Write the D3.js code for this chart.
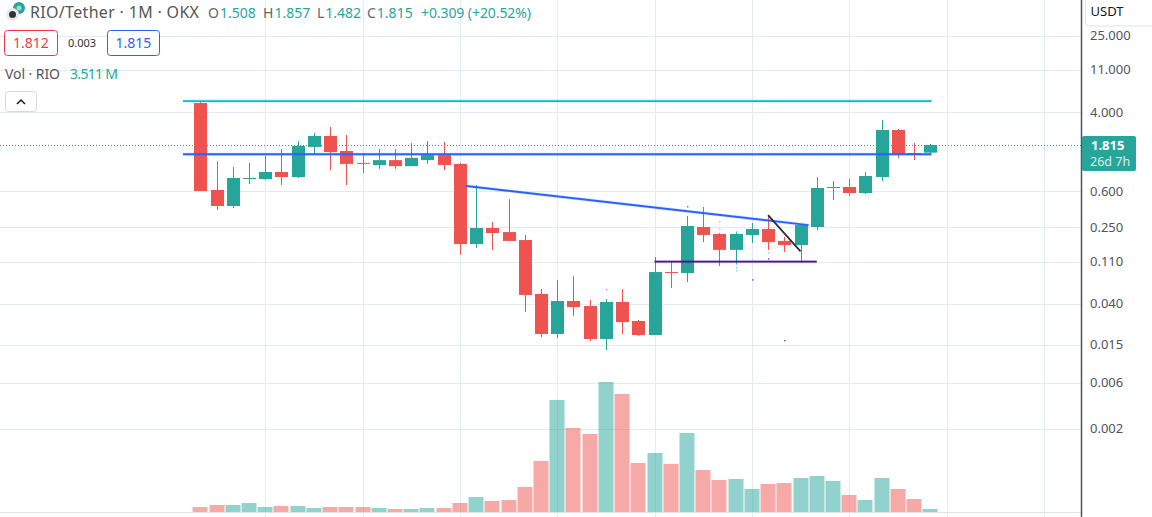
<!DOCTYPE html>
<html>
<head>
<meta charset="utf-8">
<script src="https://cdnjs.cloudflare.com/ajax/libs/d3/7.8.5/d3.min.js"></script>
<style>
    html, body { margin: 0; padding: 0; background: #fff; overflow: hidden; }
    text { font-family: "Noto Sans", sans-serif; }
</style>
</head>
<body>
<svg id="chart" width="1152" height="517"></svg>
<script>
// monthly candles
const opens  = [4.96, .615, .419, .81, .80, .947, .84, 1.73, 2.25, 1.57, 1.18, 1.12, 1.26, 1.09, 1.26, 1.42, 1.15, .168, .247, .224, .185, .0507, .0194, .0428, .038, .0172, .0418, .0265, .0189, .0858, .0838, .253, .214, .146, .209, .241, .181, .164, .253, .655, .661, .572, .84, 2.60, 1.49, 1.508];
const highs  = [5.21, 1.23, 1.07, 1.18, 1.39, 1.645, 1.99, 2.42, 2.79, 2.30, 1.49, 1.645, 1.645, 1.90, 1.99, 1.95, 1.18, .693, .285, .495, .209, .0571, .0708, .078, .0438, .0449, .0571, .0271, .123, .109, .33, .409, .219, .224, .278, .33, .199, .265, .84, .763, .80, .947, 3.30, 2.66, 1.90, 1.857];
const lows   = [.60, .38, .399, .71, .782, .693, .82, 1.46, .99, .693, .925, 1.02, 1.02, 1.09, 1.15, .99, .13, .153, .146, .181, .0329, .018, .0176, .0299, .0164, .0132, .0194, .0185, .0189, .0585, .0675, .176, .099, .102, .172, .146, .139, .107, .235, .484, .533, .559, .763, 1.33, 1.26, 1.482];
const closes = [.60, .419, .82, .82, .947, .84, 1.77, 2.25, 1.53, 1.15, 1.17, 1.26, 1.09, 1.33, 1.42, 1.12, .168, .247, .219, .181, .0495, .0194, .0428, .037, .0172, .0418, .0258, .0189, .0858, .0851, .259, .209, .146, .214, .241, .176, .164, .265, .645, .661, .572, .861, 2.60, 1.46, 1.47, 1.815];
// volume in millions
const volumes = [5.85, 8.2, 8.2, 10.5, 5.85, 7, 7, 4.7, 5.85, 5.85, 5.85, 4.7, 3.5, 3.5, 4.7, 4.7, 10.5, 17.6, 12.9, 14, 29.3, 59.7, 131, 98.3, 91.3, 152, 138, 57.3, 69, 56.2, 92.4, 49.1, 37.4, 38.6, 26.9, 32.8, 33.9, 39.8, 42.1, 36.3, 19.9, 14, 39.8, 26.9, 15.2, 3.511];

const priceTicks = [25, 11, 4, 0.6, 0.25, 0.11, 0.04, 0.015, 0.006, 0.002];
const gridCandles = [4, 10, 16, 22, 28, 34, 40, 46, 52];

// drawings: [candle, price, candle, price]
const lineA = [-1.07, 5.2, 45.07, 5.2];
const lineB = [-1.07, 1.45, 45.07, 1.45];
const lineTrend = [16.38, 0.677, 37.5, 0.265];
const lineFloor = [28, 0.11, 38, 0.11];
const lineDiag = [35, 0.337, 37, 0.141];

const speckIdx    = [30, 32, 32, 33, 33, 33, 33, 34, 34, 35, 35, 36, 25];
const speckPrices = [.419, .292, .247, .229, .1045, .0967, .09, .1175, .0723, .139, .1195, .0168, .0571];
const speckColors = ["#00bcd4", "#80deea", "#80deea", "#80deea", "#80deea", "#80deea", "#80deea", "#80deea", "#ab47bc", "#80deea", "#ab47bc", "#ab47bc", "#ce93d8"];

const ohlcLetters = ["O", "H", "L", "C"];
const ohlcValues = ["1.508", "1.857", "1.482", "1.815"];
const ohlcX = [208, 263, 317, 367];

const green = "#26a69a", red = "#ef5350", gridCol = "#e1ecf2", textCol = "#50535e";

const svg = d3.select("#chart");

const x = d3.scaleLinear().domain([0, 45]).range([200.3, 930.3]);
const y = d3.scaleLog().domain([4, 0.002]).range([112, 428.6]);
const yVol = d3.scaleLinear().domain([0, 152]).range([512, 382]);
const axisX = 1081;
const bodyW = 13;

// grid
svg.append("g").selectAll("line").data(priceTicks).enter().append("line")
    .attr("x1", 0).attr("x2", axisX)
    .attr("y1", d => Math.round(y(d)) + 0.5).attr("y2", d => Math.round(y(d)) + 0.5)
    .attr("stroke", gridCol);
svg.append("g").selectAll("line").data(gridCandles).enter().append("line")
    .attr("x1", d => Math.round(x(d)) + 0.5).attr("x2", d => Math.round(x(d)) + 0.5)
    .attr("y1", 0).attr("y2", 517)
    .attr("stroke", gridCol);

// volume bars
svg.append("g").selectAll("rect").data(volumes).enter().append("rect")
    .attr("x", (d, i) => Math.round(x(i)) - 8 + 0.5)
    .attr("width", 15)
    .attr("y", d => yVol(d))
    .attr("height", d => 512 - yVol(d))
    .attr("fill", (d, i) => closes[i] >= opens[i] ? green : red)
    .attr("opacity", 0.5);

// bottom pane edge
svg.append("line").attr("x1", 0).attr("x2", axisX).attr("y1", 512.5).attr("y2", 512.5).attr("stroke", "#e0e3eb");

// last price line
svg.append("line").attr("x1", 0).attr("x2", axisX)
    .attr("y1", Math.round(y(closes[45])) + 0.5).attr("y2", Math.round(y(closes[45])) + 0.5)
    .attr("stroke", green).attr("stroke-dasharray", "1 2");

// wicks and bodies
const candles = svg.append("g");
candles.selectAll("line").data(opens).enter().append("line")
    .attr("x1", (d, i) => Math.round(x(i)) + 0.5).attr("x2", (d, i) => Math.round(x(i)) + 0.5)
    .attr("y1", (d, i) => y(highs[i])).attr("y2", (d, i) => y(lows[i]))
    .attr("stroke", (d, i) => closes[i] >= d ? green : red);
candles.selectAll("rect").data(opens).enter().append("rect")
    .attr("x", (d, i) => Math.round(x(i)) + 0.5 - bodyW / 2)
    .attr("width", bodyW)
    .attr("y", (d, i) => Math.min(y(d), y(closes[i])))
    .attr("height", (d, i) => Math.max(1, Math.abs(y(d) - y(closes[i]))))
    .attr("fill", (d, i) => closes[i] >= d ? green : red);

// drawings, the pale wider stroke is the halo these lines have in the screenshot
function drawSeg(seg, colour, halo) {
    if (halo) {
        svg.append("line")
            .attr("x1", x(seg[0])).attr("y1", y(seg[1]))
            .attr("x2", x(seg[2])).attr("y2", y(seg[3]))
            .attr("stroke", colour).attr("stroke-width", 3.5).attr("opacity", 0.12);
    }
    svg.append("line")
        .attr("x1", x(seg[0])).attr("y1", y(seg[1]))
        .attr("x2", x(seg[2])).attr("y2", y(seg[3]))
        .attr("stroke", colour).attr("stroke-width", 1.8);
}
drawSeg(lineA, "#00bcd4", true);
drawSeg(lineB, "#2962ff", true);
drawSeg(lineTrend, "#2962ff", true);
drawSeg(lineFloor, "#4a148c", true);
drawSeg(lineDiag, "#2a2e39", false);

svg.append("g").selectAll("rect").data(speckIdx).enter().append("rect")
    .attr("x", d => Math.round(x(d)))
    .attr("y", (d, i) => y(speckPrices[i]))
    .attr("width", 1.5).attr("height", 1.5)
    .attr("fill", (d, i) => speckColors[i]);

// price axis
svg.append("rect").attr("x", axisX).attr("y", 0).attr("width", 71).attr("height", 517).attr("fill", "#fff");
svg.append("line").attr("x1", axisX + 0.5).attr("x2", axisX + 0.5).attr("y1", 0).attr("y2", 517).attr("stroke", "#50535e").attr("stroke-width", 1.5);
svg.append("g").selectAll("text").data(priceTicks).enter().append("text")
    .attr("x", 1090).attr("y", d => y(d) + 4.5)
    .attr("font-size", 13).attr("fill", textCol)
    .text(d => d3.format(".3f")(d));

// currency box
svg.append("path").attr("d", "M1085.5 0V22a4 4 0 0 0 4 4H1152").attr("fill", "none").attr("stroke", "#e0e3eb");
svg.append("text").attr("x", 1090.5).attr("y", 16).attr("font-size", 13).attr("fill", "#131722").text("USDT");

svg.append("rect").attr("x", 1082).attr("y", 136).attr("width", 54).attr("height", 35).attr("rx", 2).attr("fill", green);
svg.append("text").attr("x", 1091).attr("y", 150).attr("font-size", 13).attr("font-weight", "bold").attr("fill", "#fff").text("1.815");
svg.append("text").attr("x", 1090).attr("y", 166).attr("font-size", 12.5).attr("fill", "#d4eeeb").text("26d 7h");

// header
svg.append("text").attr("x", 30).attr("y", 18).attr("font-size", 16)
    .attr("textLength", 169).attr("fill", "#555").text("RIO/Tether · 1M · OKX");
svg.append("g").selectAll("text").data(ohlcValues).enter().append("text")
    .attr("x", (d, i) => ohlcX[i]).attr("y", 18).attr("font-size", 14)
    .each(function (d, i) {
        d3.select(this).append("tspan").attr("fill", "#666").text(ohlcLetters[i]);
        d3.select(this).append("tspan").attr("fill", green).attr("dx", 1).text(d);
    });
svg.append("text").attr("x", 421).attr("y", 18).attr("font-size", 14)
    .attr("textLength", 110).attr("fill", green).text("+0.309 (+20.52%)");

// exchange icon
svg.append("circle").attr("cx", 19).attr("cy", 8).attr("r", 6).attr("fill", green);
svg.append("circle").attr("cx", 19).attr("cy", 8).attr("r", 2.5).attr("fill", "#9fdad3");
svg.append("circle").attr("cx", 12.5).attr("cy", 14.5).attr("r", 6.5).attr("fill", "#e9e9ec");
svg.append("circle").attr("cx", 12.5).attr("cy", 14.5).attr("r", 3.5).attr("fill", "#333");

// buy / sell boxes
svg.append("rect").attr("x", 4.5).attr("y", 30.5).attr("width", 53).attr("height", 25).attr("rx", 3).attr("fill", "#fff").attr("stroke", "#f23645");
svg.append("text").attr("x", 31).attr("y", 48).attr("text-anchor", "middle").attr("font-size", 14).attr("fill", "#f23645").text("1.812");
svg.append("text").attr("x", 82).attr("y", 47).attr("text-anchor", "middle").attr("font-size", 11).attr("fill", "#333").text("0.003");
svg.append("rect").attr("x", 107.5).attr("y", 30.5).attr("width", 52).attr("height", 25).attr("rx", 3).attr("fill", "#fff").attr("stroke", "#2962ff");
svg.append("text").attr("x", 133.5).attr("y", 48).attr("text-anchor", "middle").attr("font-size", 14).attr("fill", "#2962ff").text("1.815");

svg.append("text").attr("x", 5).attr("y", 79).attr("font-size", 14).attr("textLength", 55).attr("fill", "#555").text("Vol · RIO");
svg.append("text").attr("x", 70).attr("y", 79).attr("font-size", 14).attr("textLength", 48).attr("fill", green).text("3.511 M");

// collapse button
svg.append("rect").attr("x", 5.5).attr("y", 91.5).attr("width", 31).attr("height", 20).attr("rx", 3).attr("fill", "#fff").attr("stroke", "#d6d8e0");
svg.append("path").attr("d", "M17 104l4-4 4 4").attr("fill", "none").attr("stroke", "#131722").attr("stroke-width", 1.5);
</script>
</body>
</html>
